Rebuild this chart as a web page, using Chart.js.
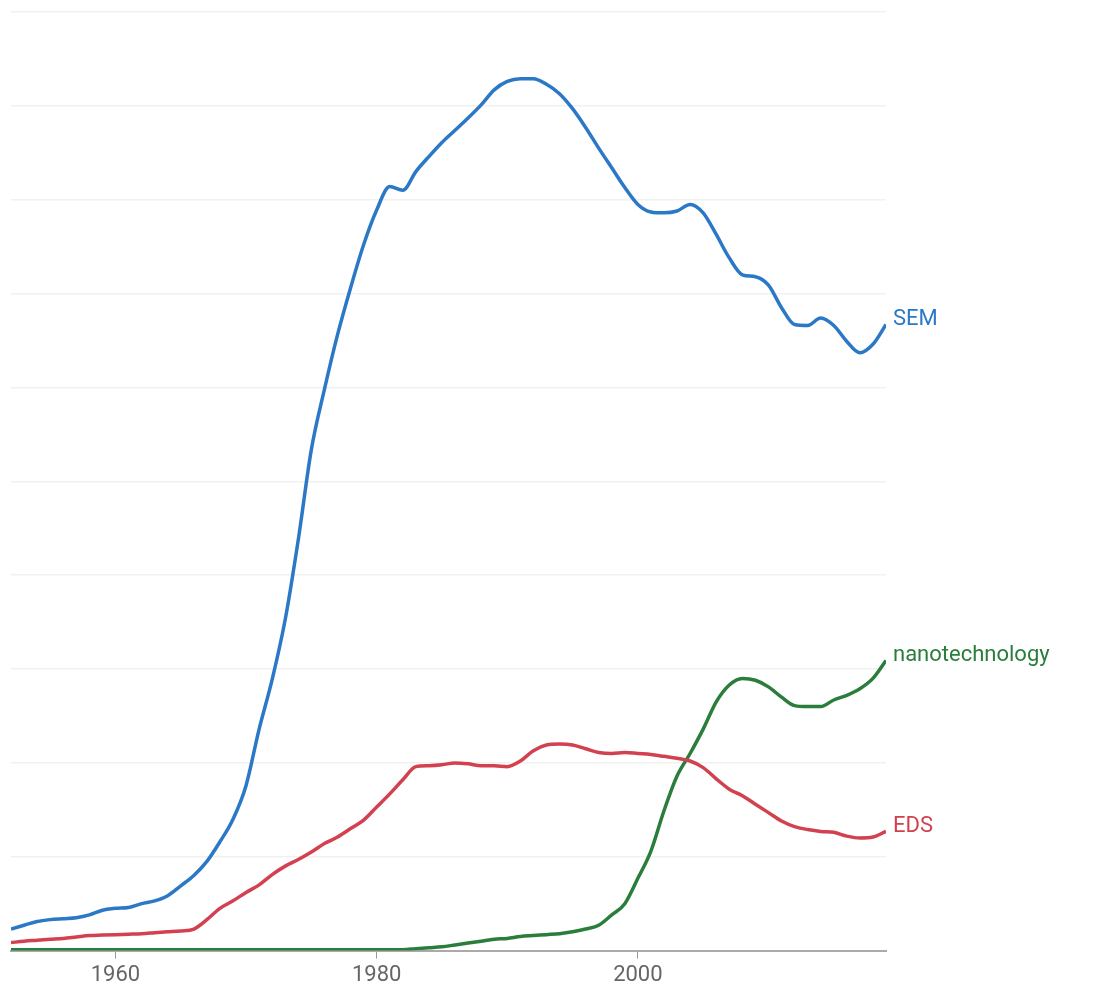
<!DOCTYPE html>
<html>
<head>
<meta charset="utf-8">
<script src="https://cdn.jsdelivr.net/npm/chart.js@4/dist/chart.umd.min.js"></script>
<style>
  html, body { margin: 0; padding: 0; background: #fff; }
  #wrap { width: 1112px; height: 997px; }
</style>
</head>
<body>
<div id="wrap"><canvas id="chart" width="1112" height="997"></canvas></div>
<script>
// years 1952..2019
var years = [];
for (var y = 1952; y <= 2019; y++) years.push(y);

var sem = [0.23, 0.27, 0.31, 0.33, 0.34, 0.35, 0.38, 0.43, 0.45, 0.46,
  0.50, 0.53, 0.585, 0.69, 0.80, 0.95, 1.16, 1.40, 1.76, 2.36,
  2.89, 3.53, 4.38, 5.34, 5.98, 6.56, 7.06, 7.52, 7.89, 8.14,
  8.10, 8.30, 8.46, 8.61, 8.74, 8.87, 9.01, 9.17, 9.26, 9.29,
  9.29, 9.23, 9.13, 8.97, 8.77, 8.55, 8.34, 8.13, 7.95, 7.87,
  7.86, 7.88, 7.95, 7.86, 7.63, 7.38, 7.20, 7.18, 7.09, 6.85,
  6.67, 6.66, 6.74, 6.66, 6.49, 6.37, 6.46, 6.67];

var eds = [0.085, 0.10, 0.11, 0.12, 0.13, 0.145, 0.16, 0.165, 0.17, 0.175,
  0.18, 0.19, 0.20, 0.21, 0.23, 0.33, 0.45, 0.53, 0.62, 0.70,
  0.81, 0.90, 0.97, 1.05, 1.14, 1.21, 1.30, 1.39, 1.53, 1.67,
  1.82, 1.96, 1.97, 1.98, 2.00, 1.99, 1.97, 1.97, 1.96, 2.02,
  2.13, 2.19, 2.20, 2.19, 2.15, 2.11, 2.10, 2.11, 2.10, 2.09,
  2.07, 2.05, 2.02, 1.95, 1.83, 1.72, 1.65, 1.56, 1.47, 1.38,
  1.32, 1.29, 1.27, 1.26, 1.22, 1.20, 1.21, 1.27];

var nano = [0.01, 0.01, 0.01, 0.01, 0.01, 0.01, 0.01, 0.01, 0.01, 0.01,
  0.01, 0.01, 0.01, 0.01, 0.01, 0.01, 0.01, 0.01, 0.01, 0.01,
  0.01, 0.01, 0.01, 0.01, 0.01, 0.01, 0.01, 0.01, 0.01, 0.01,
  0.01, 0.02, 0.03, 0.04, 0.06, 0.08, 0.10, 0.12, 0.13, 0.15,
  0.16, 0.17, 0.18, 0.20, 0.23, 0.27, 0.38, 0.50, 0.77, 1.06,
  1.49, 1.86, 2.10, 2.36, 2.65, 2.83, 2.90, 2.88, 2.81, 2.70,
  2.61, 2.60, 2.60, 2.67, 2.72, 2.79, 2.90, 3.09];

var seriesNames = ["SEM", "nanotechnology", "EDS"];
var seriesColors = ["#2b78c6", "#2a7d3b", "#d2414f"];
var xTicks = [1960, 1980, 2000];

function pts(vals) {
  return vals.map(function (v, i) { return { x: years[i], y: v }; });
}

// write the series name just right of each line's last point
var endLabels = {
  id: 'endLabels',
  afterDatasetsDraw: function (chart) {
    var ctx = chart.ctx;
    ctx.save();
    ctx.font = '22px Roboto, "Liberation Sans", sans-serif';
    ctx.textBaseline = 'middle';
    chart.data.datasets.forEach(function (ds, i) {
      var last = ds.data[ds.data.length - 1];
      var px = chart.scales.x.getPixelForValue(last.x);
      var py = chart.scales.y.getPixelForValue(last.y);
      ctx.fillStyle = ds.borderColor;
      ctx.fillText(ds.label, px + 7, py - 5);
    });
    ctx.restore();
  }
};

new Chart(document.getElementById("chart"), {
  type: 'line',
  data: {
    datasets: [
      { label: seriesNames[0], data: pts(sem), borderColor: seriesColors[0] },
      { label: seriesNames[2], data: pts(eds), borderColor: seriesColors[2] },
      { label: seriesNames[1], data: pts(nano), borderColor: seriesColors[1] }
    ]
  },
  options: {
    responsive: false,
    animation: false,
    devicePixelRatio: 1,
    layout: { padding: { left: 11, right: 226, top: 12, bottom: 4 } },
    elements: {
      line: { borderWidth: 3.5, tension: 0.4, cubicInterpolationMode: 'monotone', fill: false },
      point: { radius: 0 }
    },
    plugins: { legend: { display: false }, tooltip: { enabled: false } },
    scales: {
      x: {
        type: 'linear',
        min: 1952,
        max: 2019,
        afterBuildTicks: function (s) { s.ticks = xTicks.map(function (v) { return { value: v }; }); },
        ticks: {
          callback: function (v) { return String(v); },
          color: '#666',
          font: { family: 'Roboto, "Liberation Sans", sans-serif', size: 22 },
          padding: 4,
          maxRotation: 0
        },
        grid: { drawOnChartArea: false, drawTicks: true, tickLength: 8, color: '#999' },
        border: { display: true, color: '#aaa', width: 2 }
      },
      y: {
        min: 0,
        max: 10,
        ticks: { display: false, stepSize: 1 },
        grid: { color: '#f1f1f1', drawTicks: false, lineWidth: 1.5 },
        border: { display: false }
      }
    }
  },
  plugins: [endLabels]
});
</script>
</body>
</html>
